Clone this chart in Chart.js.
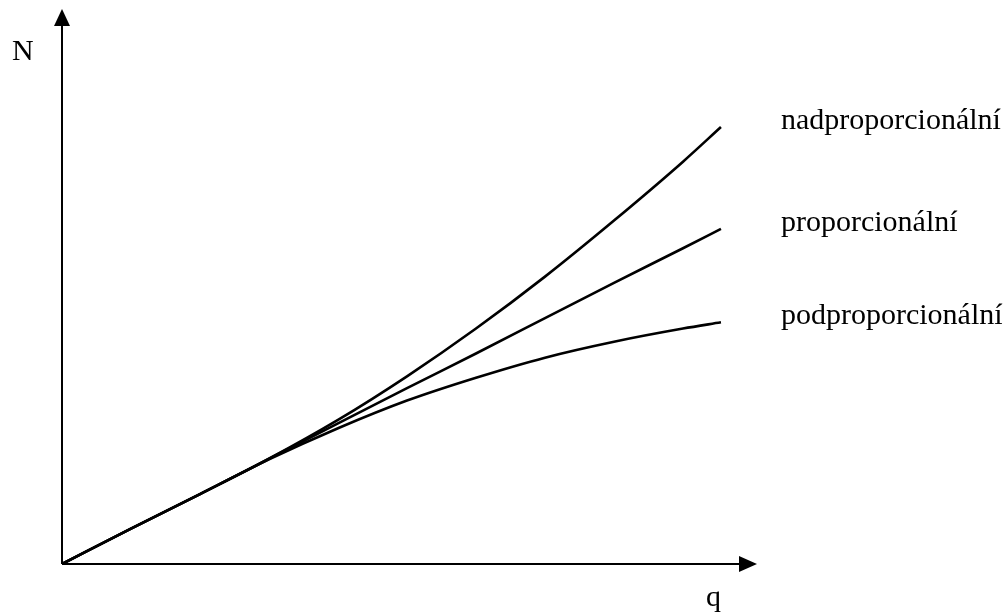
<!DOCTYPE html>
<html>
<head>
    <meta charset="UTF-8"/>
    <title>N a q</title>
    <script src="https://cdn.jsdelivr.net/npm/chart.js@4.4.0/dist/chart.umd.min.js"></script>
    <style>
        html, body {
            margin: 0;
            padding: 0;
            background: #ffffff;
        }
        canvas {
            display: block;
        }
    </style>
</head>
<body>
<canvas id="canvas" width="1008" height="612"></canvas>
<script>
    // hodnoty (q = osa x, N = osa y)
    var q = [0, 1, 2, 3, 4, 5, 6, 7, 8, 9, 9.55];
    var nadproporcionalni = [0, 0.51, 1.01, 1.52, 2.08, 2.71, 3.40, 4.15, 4.96, 5.81, 6.31];
    var proporcionalni    = [0, 0.51, 1.01, 1.52, 2.03, 2.54, 3.04, 3.55, 4.06, 4.56, 4.84];
    var podproporcionalni = [0, 0.51, 1.01, 1.51, 1.96, 2.36, 2.69, 2.98, 3.21, 3.40, 3.49];
    var labels = ['nadproporcionální', 'proporcionální', 'podproporcionální'];
    var axisLabels = ['q', 'N'];

    function points(ys) {
        var out = [];
        for (var i = 0; i < q.length; i++) {
            out.push({x: q[i], y: ys[i]});
        }
        return out;
    }

    function dataset(ys) {
        return {
            data: points(ys),
            borderColor: '#000000',
            borderWidth: 2.6,
            pointRadius: 0,
            fill: false,
            cubicInterpolationMode: 'monotone'
        };
    }

    var serif = '"Liberation Serif", "Times New Roman", serif';

    // osy se šipkami a popisky
    var axesPlugin = {
        id: 'axes',
        afterDatasetsDraw: function(chart) {
            var ctx = chart.ctx;
            var xs = chart.scales.x, ys = chart.scales.y;
            var x0 = xs.getPixelForValue(0), y0 = ys.getPixelForValue(0);
            var xEnd = xs.getPixelForValue(xs.max), yEnd = ys.getPixelForValue(ys.max);

            ctx.save();
            ctx.strokeStyle = '#000';
            ctx.fillStyle = '#000';
            ctx.lineWidth = 2;
            ctx.beginPath();
            ctx.moveTo(x0, y0);
            ctx.lineTo(xEnd - 10, y0);
            ctx.moveTo(x0, y0);
            ctx.lineTo(x0, yEnd + 10);
            ctx.stroke();

            // šipka x
            ctx.beginPath();
            ctx.moveTo(xEnd + 5, y0);
            ctx.lineTo(xEnd - 13, y0 - 8);
            ctx.lineTo(xEnd - 13, y0 + 8);
            ctx.closePath();
            ctx.fill();
            // šipka y
            ctx.beginPath();
            ctx.moveTo(x0, yEnd - 1);
            ctx.lineTo(x0 - 8, yEnd + 16);
            ctx.lineTo(x0 + 8, yEnd + 16);
            ctx.closePath();
            ctx.fill();

            ctx.font = '30px ' + serif;
            ctx.textBaseline = 'alphabetic';
            ctx.textAlign = 'left';
            ctx.fillText(axisLabels[1], x0 - 50, yEnd + 50);
            ctx.fillText(axisLabels[0], xEnd - 46, y0 + 42);

            // popisky křivek u konce čar
            chart.data.datasets.forEach(function(ds, i) {
                var last = ds.data[ds.data.length - 1];
                var px = xs.getPixelForValue(last.x);
                var py = ys.getPixelForValue(last.y);
                ctx.fillText(labels[i], px + 60, py + 2);
            });
            ctx.restore();
        }
    };

    var chart = new Chart(document.getElementById('canvas').getContext('2d'), {
        type: 'line',
        data: {
            datasets: [
                dataset(nadproporcionalni),
                dataset(proporcionalni),
                dataset(podproporcionalni)
            ]
        },
        options: {
            responsive: false,
            animation: false,
            devicePixelRatio: 1,
            layout: {
                padding: {left: 62, right: 256, top: 10, bottom: 48}
            },
            plugins: {
                legend: {display: false},
                tooltip: {enabled: false}
            },
            scales: {
                x: {type: 'linear', min: 0, max: 10, display: false},
                y: {type: 'linear', min: 0, max: 8, display: false}
            }
        },
        plugins: [axesPlugin]
    });
</script>
</body>
</html>
